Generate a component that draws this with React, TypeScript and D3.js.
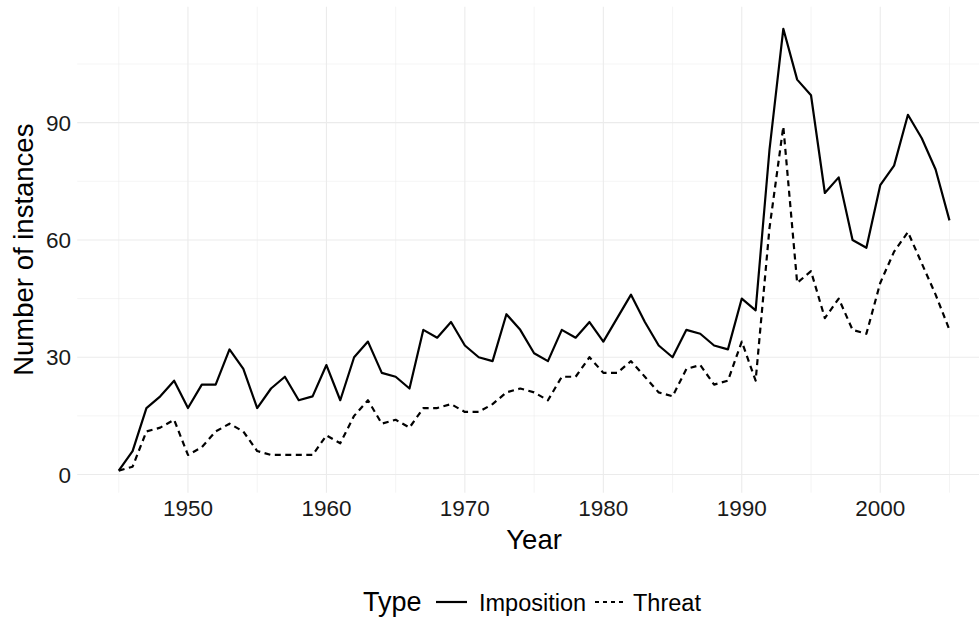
import React from "react";
import * as d3 from "d3";

const years: number[] = d3.range(1945, 2006);
const imposition: number[] = [
  1, 6, 17, 20, 24, 17, 23, 23, 32, 27,
  17, 22, 25, 19, 20, 28, 19, 30, 34, 26,
  25, 22, 37, 35, 39, 33, 30, 29, 41, 37,
  31, 29, 37, 35, 39, 34, 40, 46, 39, 33,
  30, 37, 36, 33, 32, 45, 42, 83, 114, 101,
  97, 72, 76, 60, 58, 74, 79, 92, 86, 78,
  65,
];
const threat: number[] = [
  1, 2, 11, 12, 14, 5, 7, 11, 13, 11,
  6, 5, 5, 5, 5, 10, 8, 15, 19, 13,
  14, 12, 17, 17, 18, 16, 16, 18, 21, 22,
  21, 19, 25, 25, 30, 26, 26, 29, 25, 21,
  20, 27, 28, 23, 24, 34, 24, 63, 89, 49,
  52, 40, 45, 37, 36, 49, 57, 62, 54, 46,
  37,
];
const xMajor = [1950, 1960, 1970, 1980, 1990, 2000];
const xMinor = [1945, 1955, 1965, 1975, 1985, 1995, 2005];
const yMajor = [0, 30, 60, 90];
const yMinor = [15, 45, 75, 105];
const seriesNames = ["Imposition", "Threat"];

const W = 979;
const H = 621;
const panel = { left: 77.2, right: 991, top: 6.7, bottom: 492.7 };
const FONT = "'Liberation Sans', Arial, Helvetica, sans-serif";
const DASH = "6,4.5";

export default function App() {
  const xExt = d3.extent(years) as [number, number];
  const xPad = (xExt[1] - xExt[0]) * 0.05;
  const x = d3
    .scaleLinear()
    .domain([xExt[0] - xPad, xExt[1] + xPad])
    .range([panel.left, panel.right]);
  const all = imposition.concat(threat);
  const yExt = d3.extent(all) as [number, number];
  const yPad = (yExt[1] - yExt[0]) * 0.05;
  const y = d3
    .scaleLinear()
    .domain([yExt[0] - yPad, yExt[1] + yPad])
    .range([panel.bottom, panel.top]);

  const line = d3
    .line<number>()
    .x((_, i) => x(years[i]))
    .y((d) => y(d));

  const cx = (panel.left + panel.right) / 2;
  const cy = (panel.top + panel.bottom) / 2;

  return (
    <svg
      width={W}
      height={H}
      style={{ position: "absolute", left: 0, top: 0, background: "#fff" }}
      fontFamily={FONT}
    >
      <rect x={0} y={0} width={W} height={H} fill="#fff" />
      <g>
        {yMinor.map((v) => (
          <line key={"ym" + v} x1={panel.left} x2={panel.right} y1={y(v)} y2={y(v)} stroke="#ebebeb" strokeWidth={0.55} />
        ))}
        {xMinor.map((v) => (
          <line key={"xm" + v} x1={x(v)} x2={x(v)} y1={panel.top} y2={panel.bottom} stroke="#ebebeb" strokeWidth={0.55} />
        ))}
        {yMajor.map((v) => (
          <line key={"yM" + v} x1={panel.left} x2={panel.right} y1={y(v)} y2={y(v)} stroke="#ebebeb" strokeWidth={1.1} />
        ))}
        {xMajor.map((v) => (
          <line key={"xM" + v} x1={x(v)} x2={x(v)} y1={panel.top} y2={panel.bottom} stroke="#ebebeb" strokeWidth={1.1} />
        ))}
      </g>
      <path d={line(imposition) || ""} fill="none" stroke="#000" strokeWidth={2.2} strokeLinejoin="round" />
      <path d={line(threat) || ""} fill="none" stroke="#000" strokeWidth={2.2} strokeDasharray={DASH} strokeLinejoin="round" />

      {yMajor.map((v) => (
        <text key={"yl" + v} x={71} y={y(v)} dy="0.36em" textAnchor="end" fontSize={22.5} fill="#1a1a1a">
          {v}
        </text>
      ))}
      {xMajor.map((v) => (
        <text key={"xl" + v} x={x(v)} y={516} textAnchor="middle" fontSize={22.5} fill="#1a1a1a">
          {v}
        </text>
      ))}
      <text x={cx} y={549} textAnchor="middle" fontSize={27.5} fill="#000">
        Year
      </text>
      <text
        transform={`translate(33,${cy}) rotate(-90)`}
        textAnchor="middle"
        fontSize={27.5}
        fill="#000"
      >
        Number of instances
      </text>

      <g>
        <text x={363} y={611} fontSize={27} fill="#000">Type</text>
        <line x1={436} x2={467} y1={602} y2={602} stroke="#000" strokeWidth={2.2} />
        <text x={479} y={611} fontSize={23.5} fill="#000">{seriesNames[0]}</text>
        <line x1={595} x2={627} y1={602} y2={602} stroke="#000" strokeWidth={2.2} strokeDasharray="4,4" />
        <text x={633} y={611} fontSize={23.5} fill="#000">{seriesNames[1]}</text>
      </g>
    </svg>
  );
}
